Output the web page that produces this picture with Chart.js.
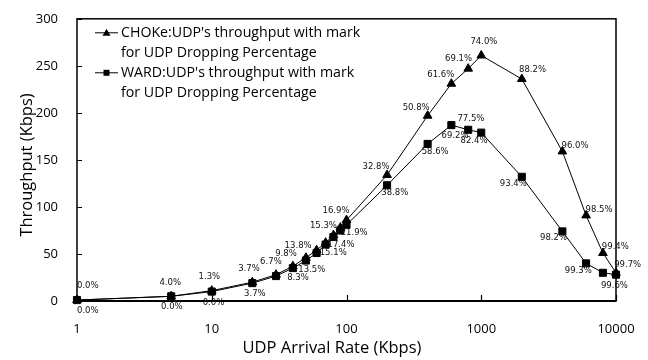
<!DOCTYPE html>
<html>
<head>
<meta charset="utf-8">
<script src="https://cdn.jsdelivr.net/npm/chart.js@4.4.0/dist/chart.umd.min.js"></script>
<style>
  html, body { margin: 0; padding: 0; background: #fff; }
</style>
</head>
<body>
<canvas id="grafica" width="648" height="360"></canvas>
<script>
// tasas de llegada UDP (Kbps) y throughput (Kbps)
const tasas = [1, 5, 10, 20, 30, 40, 50, 60, 70, 80, 90, 100, 200, 400, 600, 800, 1000, 2000, 4000, 6000, 8000, 10000];
const chokeThr = [1, 5, 11, 20, 28, 37, 46, 54, 62, 70, 78, 86, 134, 197, 231, 247, 261, 236, 159, 91, 51, 30];
const wardThr = [1, 5, 10, 19, 26.5, 35, 43, 51, 60, 68, 75, 81, 123, 167, 187, 182, 179, 132, 74, 40, 30, 28];

// porcentaje de descarte UDP (marcas)
const chokeDrop = ['0.0%', '4.0%', '1.3%', '3.7%', '6.7%', '9.8%', '13.8%', null, null, '15.3%', null, '16.9%',
                   '32.8%', '50.8%', '61.6%', '69.1%', '74.0%', '88.2%', '96.0%', '98.5%', '99.4%', '99.7%'];
const wardDrop = ['0.0%', '0.0%', '0.0%', '3.7%', null, '8.3%', '13.5%', null, '15.1%', '17.4%', null, '21.9%',
                  '38.8%', '58.6%', '69.2%', '77.5%', '82.4%', '93.4%', '98.2%', '99.3%', null, '99.6%'];

const xTicks = [1, 10, 100, 1000, 10000];
const yTicks = [0, 50, 100, 150, 200, 250, 300];

const tituloX = 'UDP Arrival Rate (Kbps)';
const tituloY = 'Throughput (Kbps)';
const leyendas = ["CHOKe:UDP's throughput with mark\nfor UDP Dropping Percentage",
                  "WARD:UDP's throughput with mark\nfor UDP Dropping Percentage"];
const marcas = [chokeDrop, wardDrop];

const fuente = "'Open Sans', 'Noto Sans', sans-serif";

const armaPuntos = (valores) => tasas.map((t, i) => ({ x: t, y: valores[i] }));

const seTapan = (a, b) => {
  const ox = Math.min(a.x2, b.x2) - Math.max(a.x1, b.x1);
  const oy = Math.min(a.y2, b.y2) - Math.max(a.y1, b.y1);
  if (ox <= 0 || oy <= 0) return 0;
  return (ox * oy) / ((a.x2 - a.x1) * (a.y2 - a.y1));
};

// marco, ticks hacia adentro, etiquetas de porcentaje, leyenda y titulos
const extras = {
  id: 'extras',
  afterDatasetsDraw(chart) {
    const ctx = chart.ctx;
    const area = chart.chartArea;
    const sx = chart.scales.x;
    const sy = chart.scales.y;
    ctx.save();

    ctx.strokeStyle = '#000';
    ctx.lineWidth = 1.5;
    ctx.strokeRect(area.left, area.top, area.right - area.left, area.bottom - area.top);
    ctx.lineWidth = 2;
    ctx.beginPath();
    ctx.moveTo(area.left, area.bottom);
    ctx.lineTo(area.right, area.bottom);
    ctx.stroke();

    ctx.lineWidth = 1.2;
    ctx.beginPath();
    for (const t of xTicks) {
      const px = Math.round(sx.getPixelForValue(t)) + 0.5;
      ctx.moveTo(px, area.bottom);
      ctx.lineTo(px, area.bottom - 6);
    }
    for (const t of yTicks) {
      const py = Math.round(sy.getPixelForValue(t)) + 0.5;
      ctx.moveTo(area.left, py);
      ctx.lineTo(area.left + 5, py);
    }
    ctx.stroke();

    // etiquetas: separadas de la linea en direccion normal (arriba CHOKe, abajo WARD)
    ctx.font = "8.5px 'DejaVu Sans', sans-serif";
    ctx.fillStyle = '#111';
    ctx.textAlign = 'center';
    ctx.textBaseline = 'middle';
    chart.data.datasets.forEach((ds, d) => {
      const pts = chart.getDatasetMeta(d).data;
      const lista = marcas[d];
      const lado = d === 0 ? -1 : 1;
      const dist = d === 0 ? 14 : 11;
      const cajas = [];
      pts.forEach((p, i) => {
        if (!lista[i]) return;
        const a = pts[Math.max(0, i - 1)];
        const b = pts[Math.min(pts.length - 1, i + 1)];
        let tx = b.x - a.x, ty = b.y - a.y;
        const len = Math.hypot(tx, ty) || 1;
        tx /= len; ty /= len;
        let nx = ty, ny = -tx;
        if (ny * lado < 0) { nx = -nx; ny = -ny; }
        const w = ctx.measureText(lista[i]).width;
        const caja = (cx, cy) => ({ x1: cx - w / 2, x2: cx + w / 2, y1: cy - 4.5, y2: cy + 4.5, cx, cy });
        let c = caja(Math.max(p.x + nx * dist, area.left + w / 2), p.y + ny * dist);
        if (cajas.some(o => seTapan(c, o) > 0.2)) {
          c = caja(Math.max(p.x - nx * dist, area.left + w / 2), p.y - ny * dist);
        }
        cajas.push(c);
        ctx.fillText(lista[i], c.cx, c.cy);
      });
    });

    // leyenda dentro del area
    ctx.font = '14.2px ' + fuente;
    ctx.textAlign = 'left';
    ctx.fillStyle = '#000';
    let yLinea = area.top + 14;
    chart.data.datasets.forEach((ds, d) => {
      const lineas = ds.label.split('\n');
      const xm = area.left + 18;
      ctx.strokeStyle = '#000';
      ctx.lineWidth = 1;
      ctx.beginPath();
      ctx.moveTo(xm, yLinea);
      ctx.lineTo(xm + 23, yLinea);
      ctx.stroke();
      ctx.beginPath();
      if (d === 0) {
        ctx.moveTo(xm + 11.5, yLinea - 4);
        ctx.lineTo(xm + 15.5, yLinea + 3);
        ctx.lineTo(xm + 7.5, yLinea + 3);
        ctx.closePath();
      } else {
        ctx.rect(xm + 8.5, yLinea - 3, 6, 6);
      }
      ctx.fill();
      lineas.forEach((txt, k) => {
        ctx.fillText(txt, area.left + 44, yLinea + k * 20);
      });
      yLinea += 40;
    });

    // titulos de ejes
    ctx.font = '16.5px ' + fuente;
    ctx.textAlign = 'center';
    ctx.fillText(tituloX, 332, 348);
    ctx.translate(27, 165);
    ctx.rotate(-Math.PI / 2);
    ctx.fillText(tituloY, 0, 0);

    ctx.restore();
  }
};

const ctx = document.getElementById('grafica').getContext('2d');
Chart.defaults.font.family = fuente;
Chart.defaults.color = '#000';

const grafico = new Chart(ctx, {
  type: 'line',
  data: {
    datasets: [
      { label: leyendas[0], data: armaPuntos(chokeThr), borderColor: '#000', backgroundColor: '#000',
        borderWidth: 1, pointStyle: 'triangle', pointRadius: 5, tension: 0, clip: false },
      { label: leyendas[1], data: armaPuntos(wardThr), borderColor: '#000', backgroundColor: '#000',
        borderWidth: 1, pointStyle: 'rect', pointRadius: 5, tension: 0, clip: false }
    ]
  },
  options: {
    responsive: false,
    animation: false,
    layout: { padding: { top: 15, right: 32, left: 0, bottom: 0 } },
    plugins: { legend: { display: false }, tooltip: { enabled: false } },
    scales: {
      x: {
        type: 'logarithmic', min: 1, max: 10000,
        afterBuildTicks: (s) => { s.ticks = xTicks.map(v => ({ value: v })); },
        afterFit: (s) => { s.height = 59; },
        grid: { display: false }, border: { display: false },
        ticks: { padding: 12, font: { size: 13 }, callback: (v) => String(v), maxRotation: 0, autoSkip: false }
      },
      y: {
        min: 0, max: 300,
        afterBuildTicks: (s) => { s.ticks = yTicks.map(v => ({ value: v })); },
        afterFit: (s) => { s.width = 77; },
        grid: { display: false }, border: { display: false },
        ticks: { padding: 11, font: { size: 13 } }
      }
    }
  },
  plugins: [extras]
});
</script>
</body>
</html>
